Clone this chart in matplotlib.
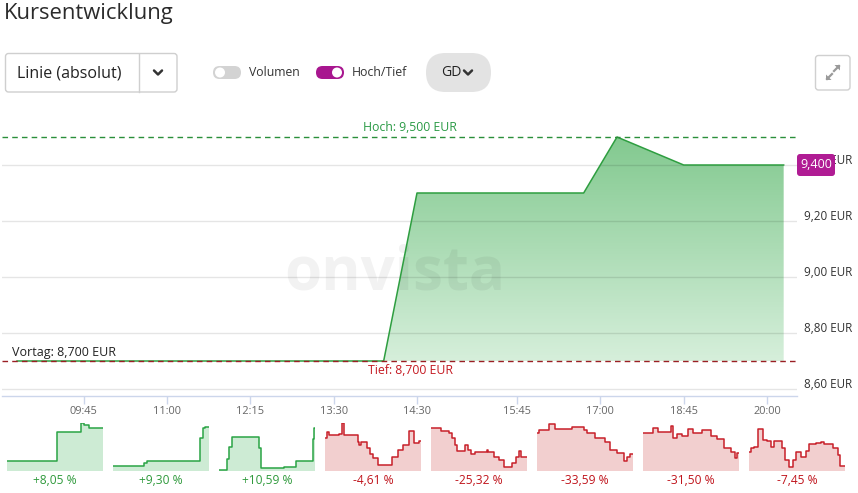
import numpy as np
import matplotlib
matplotlib.use("Agg")
import matplotlib.pyplot as plt
from matplotlib.patches import FancyBboxPatch, Circle, Polygon
from matplotlib.colors import LinearSegmentedColormap
from matplotlib.transforms import ScaledTranslation

plt.rcParams['font.family'] = ['Open Sans', 'DejaVu Sans']

# ---------------- data ----------------
title = "Kursentwicklung"
prices = [8.70, 8.70, 8.70, 8.70, 8.70, 8.70, 8.70, 8.70, 8.70, 8.70, 8.70, 8.70,
          9.30, 9.30, 9.30, 9.30, 9.30, 9.30, 9.50, 9.45, 9.40, 9.40, 9.40, 9.40]
tick_positions = [2, 4.5, 7, 9.5, 12, 15, 17.5, 20, 22.5]
tick_labels = ["09:45", "11:00", "12:15", "13:30", "14:30", "15:45", "17:00", "18:45", "20:00"]
y_ticks = [8.60, 8.80, 9.00, 9.20, 9.40]
y_tick_labels = ["8,60 EUR", "8,80 EUR", "9,00 EUR", "9,20 EUR", "9,40 EUR"]
high_value = 9.50
low_value = 8.70
prev_close = 8.70
last_price = 9.40

mini_labels = ["+8,05 %", "+9,30 %", "+10,59 %", "-4,61 %", "-25,32 %", "-33,59 %", "-31,50 %", "-7,45 %"]
mini_x = [
    [0, 50, 74, 77, 82, 96],
    [0, 31, 34, 87, 90, 92, 96],
    [0, 8, 10, 13, 40, 42, 65, 77, 94, 95, 96],
    [0, 2, 4, 14, 17, 19, 33, 34, 36, 42, 45, 48, 53, 67, 73, 78, 84, 89, 94, 96],
    [0, 10, 18, 21, 24, 26, 34, 37, 40, 44, 56, 57, 63, 68, 73, 81, 85, 88, 90, 96],
    [0, 2, 12, 18, 35, 47, 50, 58, 68, 73, 80, 87, 90, 93, 96],
    [0, 10, 15, 28, 30, 34, 39, 45, 50, 59, 68, 74, 81, 88, 92, 94, 96],
    [0, 2, 5, 9, 14, 18, 22, 25, 33, 36, 40, 44, 47, 52, 57, 60, 67, 72, 75, 84, 89, 91, 96],
]
mini_y = [
    [10, 39, 48, 46, 43, 43],
    [5, 8, 10, 33, 43, 44, 44],
    [1, 12, 24, 34, 23, 3, 4, 10, 32, 43, 43],
    [33, 39, 36, 37, 48, 36, 29, 26, 29, 23, 17, 13, 6, 14, 21, 26, 40, 28, 30, 30],
    [43, 40, 38, 33, 26, 20, 26, 21, 17, 19, 21, 19, 14, 11, 4, 8, 14, 20, 14, 14],
    [38, 41, 47, 42, 44, 41, 38, 33, 29, 21, 18, 10, 14, 17, 17],
    [38, 43, 39, 45, 33, 37, 35, 42, 38, 41, 35, 32, 23, 19, 13, 18, 18],
    [19, 23, 24, 42, 31, 30, 24, 30, 23, 11, 4, 11, 19, 14, 20, 27, 28, 29, 27, 23, 16, 5, 5],
]

# ---------------- figure ----------------
W, H = 858, 493
fig = plt.figure(figsize=(W / 100, H / 100), dpi=100)
fig.patch.set_facecolor("white")

def fig_rect(x0, y0, x1, y1):
    return [x0 / W, 1 - y1 / H, (x1 - x0) / W, (y1 - y0) / H]

PT = 0.72  # px -> pt

# main axes
ax = fig.add_axes(fig_rect(2, 109, 797, 396))
x = np.arange(len(prices))

GREEN_LINE = "#2e9e40"
top_c, bot_c = "#82c98f", "#d6efdb"
cmap = LinearSegmentedColormap.from_list("g", [bot_c, top_c])
grad = np.linspace(0, 1, 256).reshape(-1, 1)
poly_x = np.concatenate([x, x[::-1]])
poly_y = np.concatenate([prices, np.full(len(x), low_value)])
poly = Polygon(np.column_stack([poly_x, poly_y]), closed=True, facecolor="none", edgecolor="none")
ax.add_patch(poly)
im = ax.imshow(grad, cmap=cmap, origin="lower", aspect="auto",
               extent=[x[0], x[-1], low_value, high_value], zorder=1)
im.set_clip_path(poly)
ax.set_xlim(-0.45, 23.4)
ax.set_ylim(8.575, 9.6)

ax.plot(x, prices, color=GREEN_LINE, lw=1.1, zorder=4)

for yt in y_ticks:
    ax.axhline(yt, color="black", alpha=0.10, lw=1.0, zorder=2)

ax.axhline(high_value, color="#2a8f3a", lw=1.0, ls=(0, (4, 3)), zorder=5)
ax.axhline(low_value, color="#9a1f24", lw=1.0, ls=(0, (4, 3)), zorder=5)

ax.text(11.79, high_value + 0.010, "Hoch: 9,500 EUR", color="#2a9a45", fontsize=12.3 * PT,
        ha="center", va="bottom", zorder=6)
ax.text(11.79, low_value - 0.010, "Tief: 8,700 EUR", color="#c41a22", fontsize=12.3 * PT,
        ha="center", va="top", zorder=6)
ax.text(-0.15, prev_close + 0.008, "Vortag: 8,700 EUR", color="#222222", fontsize=12.5 * PT,
        ha="left", va="bottom", zorder=6)

ax.text(11.34, 9.012, "onvista", color="black", alpha=0.05, fontsize=60 * PT,
        fontweight="bold", ha="center", va="center", zorder=3)

for s in ["top", "left", "right"]:
    ax.spines[s].set_visible(False)
ax.spines["bottom"].set_color("#ccd6eb")
ax.spines["bottom"].set_linewidth(1.0)
ax.set_facecolor("none")
ax.yaxis.tick_right()
ax.set_yticks(y_ticks)
ax.set_yticklabels(y_tick_labels)
ax.tick_params(axis="y", length=0, pad=5, labelsize=11.6 * PT, labelcolor="#333333")
shift_up = ScaledTranslation(0, 6 / 100, fig.dpi_scale_trans)
for lbl in ax.get_yticklabels():
    lbl.set_transform(lbl.get_transform() + shift_up)
ax.set_xticks(tick_positions)
ax.set_xticklabels(tick_labels)
ax.tick_params(axis="x", length=8 * PT, width=1, color="#ccd6eb", direction="out",
               pad=1.5, labelsize=11 * PT, labelcolor="#666666")

# mini charts
for i in range(len(mini_labels)):
    x0 = 7 + 106 * i
    mx = fig.add_axes(fig_rect(x0, 423, x0 + 96, 471))
    up = not mini_labels[i].startswith("-")
    lc = "#2aa445" if up else "#c8202a"
    fc = "#cdebd4" if up else "#f2cfcf"
    mx.fill_between(mini_x[i], mini_y[i], 0, step="post", color=fc, lw=0)
    mx.step(mini_x[i], mini_y[i], where="post", color=lc, lw=1.1)
    mx.set_xlim(0, 96)
    mx.set_ylim(0, 48.5)
    mx.axis("off")
    fig.text((x0 + 48) / W, 1 - 481 / H, mini_labels[i], color="#2f9a3c" if up else "#c0141c",
             fontsize=12 * PT, ha="center", va="center")

# overlay for UI elements
ov = fig.add_axes([0, 0, 1, 1], zorder=10)
ov.set_xlim(0, W)
ov.set_ylim(H, 0)
ov.axis("off")
ov.patch.set_alpha(0)

ov.text(4, 13, title, fontsize=22 * PT, color="#2b2b2b", ha="left", va="center")

# dropdown
ov.add_patch(FancyBboxPatch((5.5, 53.5), 171.5, 38.5, boxstyle="round,pad=0,rounding_size=3",
                            facecolor="white", edgecolor="#cfcfcf", lw=1))
ov.plot([138.5, 138.5], [54, 91.5], color="#cfcfcf", lw=1)
ov.text(17, 73, "Linie (absolut)", fontsize=16 * PT, color="#222222", ha="left", va="center")
ov.plot([154, 158, 162], [70.5, 74.5, 70.5], color="#333333", lw=1.8, solid_capstyle="round")

# toggles
ov.add_patch(FancyBboxPatch((213, 66), 28, 13, boxstyle="round,pad=0,rounding_size=6.5",
                            facecolor="#d3d3d3", edgecolor="none"))
ov.add_patch(Circle((220, 72.5), 5, facecolor="white", edgecolor="none"))
ov.text(249, 73, "Volumen", fontsize=12.3 * PT, color="#333333", ha="left", va="center")
ov.add_patch(FancyBboxPatch((316, 66), 28, 13, boxstyle="round,pad=0,rounding_size=6.5",
                            facecolor="#a8168f", edgecolor="none"))
ov.add_patch(Circle((337, 72.5), 5, facecolor="white", edgecolor="none"))
ov.text(352, 73, "Hoch/Tief", fontsize=12.3 * PT, color="#333333", ha="left", va="center")

# GD pill
ov.add_patch(FancyBboxPatch((426, 53), 65, 39, boxstyle="round,pad=0,rounding_size=19.5",
                            facecolor="#e3e3e3", edgecolor="none"))
ov.text(441, 72.5, "GD", fontsize=14 * PT, color="#222222", ha="left", va="center")
ov.plot([464, 468, 472], [70.5, 74.5, 70.5], color="#333333", lw=1.8, solid_capstyle="round")

# expand button
ov.add_patch(FancyBboxPatch((815.5, 55.5), 34.5, 34.5, boxstyle="round,pad=0,rounding_size=3",
                            facecolor="white", edgecolor="#d0d0d0", lw=1))
ov.plot([827, 832], [79, 74], color="#9a9a9a", lw=1.6)
ov.add_patch(Polygon([[826, 80], [826, 74.5], [831.5, 80]], closed=True, facecolor="#9a9a9a", edgecolor="none"))
ov.plot([834, 839], [71, 66], color="#9a9a9a", lw=1.6)
ov.add_patch(Polygon([[840, 65], [840, 70.5], [834.5, 65]], closed=True, facecolor="#9a9a9a", edgecolor="none"))

# last price badge (drawn over the 9,40 EUR label as in the original)
ov.add_patch(FancyBboxPatch((797, 154), 38, 22, boxstyle="round,pad=0,rounding_size=3",
                            facecolor="#b01c94", edgecolor="none"))
ov.text(816, 165, "9,400", fontsize=12.5 * PT, color="white", ha="center", va="center")

fig.savefig("out.png", dpi=100, facecolor="white")
